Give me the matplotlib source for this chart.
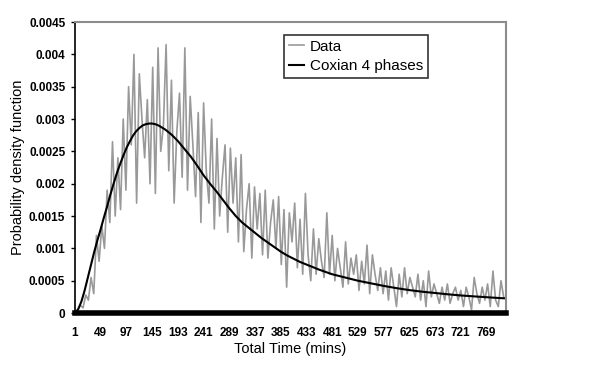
import matplotlib
matplotlib.use("Agg")
import matplotlib.pyplot as plt
import numpy as np

# Observed data (pdf, x1e-4), sampled every 5 minutes starting at t=1
data_t = list(range(1, 802, 5))
data_e4 = [
    0, 0.5, 1.2, 0.8, 2.8, 2.0, 5.5, 3.0, 12.0, 8.0,
    13.5, 10.0, 19.0, 14.0, 26.5, 15.0, 24.0, 16.0, 30.0, 19.0,
    35.0, 26.0, 40.0, 17.0, 37.0, 30.0, 24.0, 33.0, 20.0, 38.0,
    18.5, 41.0, 25.0, 29.0, 41.5, 22.0, 36.0, 17.0, 28.0, 34.0,
    21.0, 41.0, 19.0, 33.5, 26.0, 18.0, 31.0, 14.0, 32.5, 22.0,
    17.0, 30.0, 13.0, 27.0, 15.0, 21.0, 26.0, 12.5, 25.5, 17.0,
    24.0, 11.0, 24.5, 9.5, 16.0, 20.0, 8.5, 19.5, 13.0, 18.5,
    9.0, 19.0, 8.5, 14.0, 17.5, 10.0, 18.0, 7.5, 16.0, 4.0,
    15.5, 11.0, 17.0, 7.0, 14.5, 6.0, 18.5, 9.0, 5.0, 13.0,
    6.0, 11.5, 8.0, 5.5, 15.5, 6.0, 12.0, 5.0, 10.0, 7.0,
    4.0, 11.0, 4.5, 8.5, 6.0, 9.0, 3.5, 8.0, 4.5, 10.5,
    3.0, 9.0, 6.0, 3.5, 7.0, 3.0, 6.5, 2.0, 7.0, 4.0,
    1.0, 6.0, 2.5, 7.0, 3.0, 5.5, 4.0, 2.5, 6.0, 2.0,
    5.0, 1.0, 6.5, 2.5, 4.5, 3.0, 1.5, 4.0, 2.0, 4.5,
    1.5, 3.0, 4.0, 2.0, 3.5, 1.0, 4.0, 2.5, 0.5, 5.5,
    3.0, 1.5, 4.0, 2.0, 4.5, 1.0, 6.5, 2.0, 1.0, 5.0,
    2.5,
]

# Coxian 4-phase fitted pdf (x1e-4)
fit_t = [1, 7, 13, 19, 25, 31, 37, 43, 49, 55, 61, 67, 73, 79, 85, 91, 97, 103,
         109, 115, 121, 127, 133, 139, 145, 151, 157, 163, 169, 175, 181, 187,
         193, 205, 217, 229, 241, 253, 265, 277, 289, 301, 313, 325, 337, 349,
         361, 373, 385, 397, 409, 421, 433, 457, 481, 505, 529, 553, 577, 601,
         625, 649, 673, 697, 721, 745, 769, 793, 805]
fit_e4 = [0, 0.6, 1.8, 3.5, 5.5, 7.5, 9.5, 11.3, 13.0, 14.8, 16.5, 18.3, 20.0,
          21.6, 23.0, 24.3, 25.5, 26.5, 27.4, 28.1, 28.6, 29.0, 29.2, 29.3,
          29.3, 29.2, 29.0, 28.7, 28.4, 28.0, 27.6, 27.1, 26.6, 25.4, 24.2,
          22.8, 21.3, 20.0, 18.8, 17.5, 16.2, 15.0, 14.0, 13.2, 12.4, 11.6,
          10.9, 10.2, 9.5, 8.9, 8.4, 7.9, 7.5, 6.7, 6.0, 5.5, 5.0, 4.6, 4.2,
          3.85, 3.55, 3.3, 3.1, 2.9, 2.72, 2.58, 2.45, 2.32, 2.27]

x_ticks = list(range(1, 770, 48))
y_ticks = [0, 0.0005, 0.001, 0.0015, 0.002, 0.0025, 0.003, 0.0035, 0.004, 0.0045]
y_labels = ["0", "0.0005", "0.001", "0.0015", "0.002", "0.0025", "0.003",
            "0.0035", "0.004", "0.0045"]

plt.rcParams['font.family'] = ['Liberation Sans', 'DejaVu Sans']

fig = plt.figure(figsize=(6, 3.67), dpi=100)
ax = fig.add_axes([0.125, 0.147, 0.718, 0.793])

ax.plot(data_t, np.array(data_e4) * 1e-4, color='#999999', lw=1.2, label='Data')
ax.plot(fit_t, np.array(fit_e4) * 1e-4, color='black', lw=1.5, label='Coxian 4 phases')

ax.set_xlim(1, 805)
ax.set_ylim(0, 0.0045)
ax.set_xticks(x_ticks)
ax.set_xticklabels([str(v) for v in x_ticks], fontsize=8.5, fontweight='bold')
ax.set_yticks(y_ticks)
ax.set_yticklabels(y_labels, fontsize=8.5, fontweight='bold')
ax.tick_params(axis='x', length=0, pad=10)
ax.tick_params(axis='y', length=3, width=1, pad=4, direction='out')

for s in ['top', 'right']:
    ax.spines[s].set_color('#8c8c8c')
    ax.spines[s].set_linewidth(1.5)
ax.spines['left'].set_color('black')
ax.spines['left'].set_linewidth(1.2)
ax.spines['bottom'].set_color('black')
ax.spines['bottom'].set_linewidth(4)

ax.set_xlabel('Total Time (mins)', fontsize=10.5, labelpad=2)
ax.set_ylabel('Probability density function', fontsize=10.5, labelpad=3)

leg = ax.legend(loc='upper left', bbox_to_anchor=(0.485, 0.955), fontsize=11,
                frameon=True, fancybox=False, edgecolor='black', handlelength=1.0,
                handletextpad=0.4, borderpad=0.3, labelspacing=0.35,
                borderaxespad=0)
leg.get_frame().set_linewidth(1.2)

fig.savefig('out.png', dpi=100)
